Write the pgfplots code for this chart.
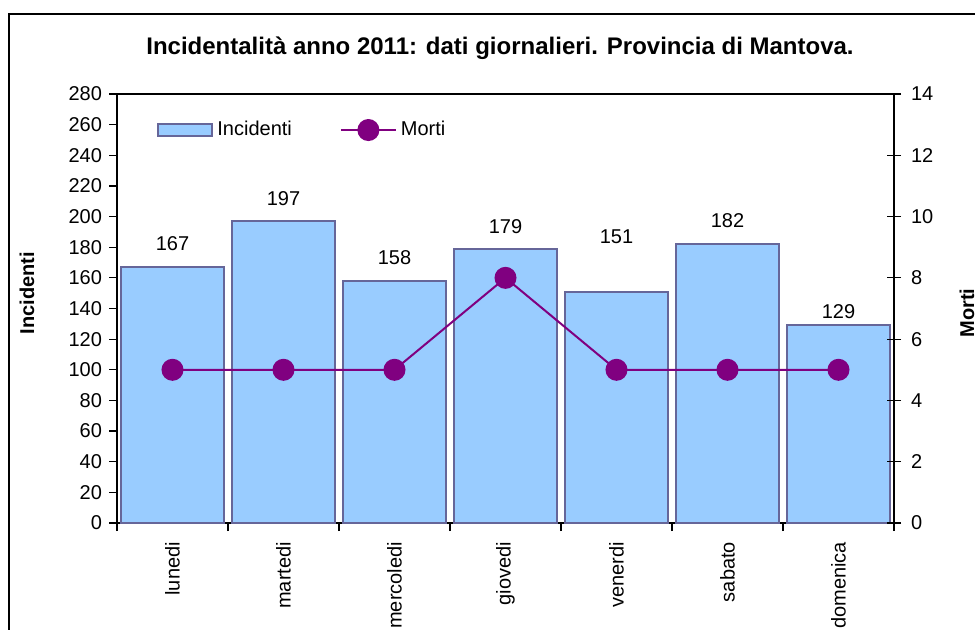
\documentclass[border=0pt]{standalone}
\usepackage{pgfplots}
\usepackage{pgfplotstable}
\pgfplotsset{compat=1.18}
\usepackage{fontspec}
\setmainfont{Liberation Sans}
\definecolor{barfill}{HTML}{99CCFF}
\definecolor{bardraw}{HTML}{666699}
\definecolor{linec}{HTML}{800080}
\pgfplotstableread{
x y dy
0 167 12
1 197 11.5
2 158 11.5
3 179 11
4 151 27.5
5 182 12
6 129 6.75
}\incid
\pgfplotstableread{
x y
0 5
1 5
2 5
3 8
4 5
5 5
6 5
}\morti
\pgfplotsset{
  /pgf/number format/assume math mode=true,
  every tick label/.append style={font=\fontsize{10}{12}\selectfont},
  mylegline/.style={legend image code/.code={\draw[mark repeat=2, mark phase=2, ##1] plot coordinates {(0pt,0pt) (13.75pt,0pt) (27.5pt,0pt)};}},
  mylegbar/.style={legend image code/.code={\draw[fill=barfill, draw=bardraw, line width=1pt] (0pt,-3pt) rectangle (27pt,3pt);}},
}
\begin{document}
\begin{tikzpicture}
\useasboundingbox (0,0) rectangle (487.5pt,-315pt);
\clip (0,0) rectangle (487.5pt,-315pt);
\draw[black, line width=0.6pt] (4.5pt,-7pt) rectangle (600pt,-400pt);
\begin{axis}[
  at={(58.5pt,-261.5pt)}, anchor=south west,
  scale only axis, width=388.5pt, height=214.5pt,
  xmin=-0.5, xmax=6.5, ymin=0, ymax=280,
  ytick={0,20,...,280},
  ytick pos=left, xtick pos=bottom,
  tick align=outside,
  major tick length=4pt,
  xtick={-0.5,0.5,...,6.5},
  xticklabels={},
  extra x ticks={0,1,2,3,4,5,6},
  extra x tick labels={lunedi,martedi,mercoledi,giovedi,venerdi,sabato,domenica},
  extra x tick style={major tick length=0pt},
  xticklabel style={rotate=90, anchor=east},
  xticklabel shift=6pt,
  axis line style={black, line width=0.6pt},
  tick style={black, line width=0.6pt},
]
\addplot[ybar, bar width=0.92, bar shift=0pt, fill=barfill, draw=bardraw, line width=1pt,
  nodes near coords,
  visualization depends on={\thisrow{dy} \as \dy},
  nodes near coords style={anchor=center, yshift=\dy pt, font=\fontsize{10}{12}\selectfont, text=black}]
  table[x=x,y=y] {\incid};
\end{axis}
\begin{axis}[
  at={(58.5pt,-261.5pt)}, anchor=south west,
  scale only axis, width=388.5pt, height=214.5pt,
  xmin=-0.5, xmax=6.5, ymin=0, ymax=14,
  ytick={0,2,...,14},
  axis y line*=right, axis x line=none,
  tick align=center,
  major tick length=7pt,
  yticklabel style={xshift=1.5pt},
  axis line style={black, line width=0.6pt},
  tick style={black, line width=0.6pt},
  legend columns=2,
  legend style={at={(0.0515,0.916)}, anchor=west, draw=none, fill=none,
    inner sep=0pt, font=\fontsize{10}{12}\selectfont,
    /tikz/every even column/.append style={column sep=22pt}},
]
\addlegendimage{mylegbar}
\addlegendentry{Incidenti}
\addplot[linec, line width=1pt, mark=*, mark size=5pt, mark options={fill=linec, draw=linec}, mylegline]
  table[x=x,y=y] {\morti};
\addlegendentry{Morti}
\end{axis}
\node[font=\bfseries\fontsize{12}{14}\selectfont] at (250pt,-24pt) {Incidentalità anno 2011: dati giornalieri. Provincia di Mantova.};
\node[font=\bfseries\fontsize{10}{12}\selectfont, rotate=90] at (13.5pt,-146.5pt) {Incidenti};
\node[font=\bfseries\fontsize{10}{12}\selectfont, rotate=90] at (483.5pt,-156.5pt) {Morti};
\end{tikzpicture}
\end{document}
